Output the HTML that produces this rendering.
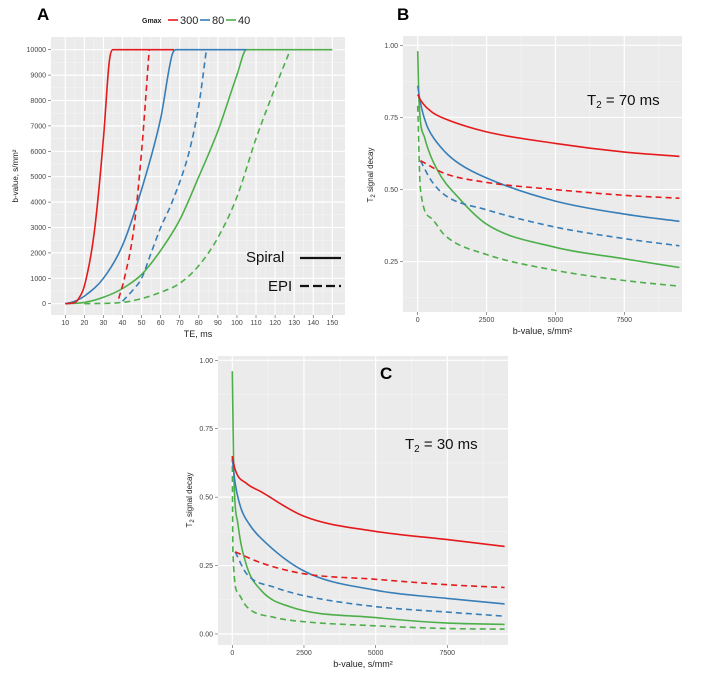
<!DOCTYPE html>
<html><head><meta charset="utf-8"><style>
body{margin:0;background:#fff}
svg{display:block;font-family:"Liberation Sans",sans-serif}
</style></head><body>
<svg id="fig" width="720" height="677" viewBox="0 0 720 677"></svg>
<script>
// ---------- Panel A data (TE ms, b-value) ----------
const aRedSolidTE=[10,15,17,20,25,30,33,35,67];
const aRedSolidB=[0,50,200,700,2700,6500,9500,10000,10000];
const aRedDashTE=[38,41,46,50,54];
const aRedDashB=[200,1000,3000,6000,10000];
const aBlueSolidTE=[10,15,20,30,40,50,60,66,68,105];
const aBlueSolidB=[0,100,300,1000,2300,4500,7300,9800,10000,10000];
const aBlueDashTE=[40,45,50,55,60,66,75,80,84];
const aBlueDashB=[100,500,1000,2000,3000,4000,6000,7800,10000];
const aGreenSolidTE=[10,20,30,40,50,60,70,80,90,100,105,150];
const aGreenSolidB=[0,50,250,600,1150,2100,3300,5000,6800,9000,10000,10000];
const aGreenDashTE=[20,40,50,60,70,80,90,100,110,120,128];
const aGreenDashB=[0,50,200,450,800,1500,2600,4200,6500,8500,10000];
const aXTicks=[10,20,30,40,50,60,70,80,90,100,110,120,130,140,150];
const aYTicks=[0,1000,2000,3000,4000,5000,6000,7000,8000,9000,10000];
// ---------- Panel B data (b-value, signal) T2=70 ----------
const bRedSolidX=[0,100,500,1000,2500,5000,7500,9500];
const bRedSolidY=[0.83,0.81,0.77,0.745,0.70,0.66,0.63,0.615];
const bBlueSolidX=[0,100,300,500,1000,1500,2500,5000,7500,9500];
const bBlueSolidY=[0.86,0.80,0.73,0.69,0.63,0.59,0.54,0.46,0.415,0.39];
const bGreenSolidX=[0,50,250,700,1500,2500,5000,7500,9500];
const bGreenSolidY=[0.98,0.80,0.68,0.57,0.47,0.38,0.30,0.26,0.23];
const bRedDashX=[100,1000,2500,5000,7500,9500];
const bRedDashY=[0.60,0.555,0.525,0.50,0.48,0.47];
const bBlueDashX=[100,500,1000,2500,5000,7500,9500];
const bBlueDashY=[0.60,0.53,0.48,0.43,0.37,0.33,0.305];
const bGreenDashX=[0,100,500,1000,2500,5000,7500,9500];
const bGreenDashY=[0.79,0.50,0.40,0.34,0.275,0.22,0.185,0.165];
// ---------- Panel C data T2=30 ----------
const cRedSolidX=[0,100,500,1000,2500,5000,7500,9500];
const cRedSolidY=[0.65,0.60,0.55,0.52,0.43,0.375,0.345,0.32];
const cBlueSolidX=[0,100,300,600,1000,2500,5000,7500,9500];
const cBlueSolidY=[0.64,0.55,0.46,0.40,0.35,0.23,0.16,0.13,0.11];
const cGreenSolidX=[0,50,200,500,1000,2000,5000,7500,9500];
const cGreenSolidY=[0.96,0.60,0.40,0.25,0.16,0.10,0.06,0.04,0.035];
const cRedDashX=[100,1000,2500,5000,7500,9500];
const cRedDashY=[0.30,0.26,0.22,0.20,0.18,0.17];
const cBlueDashX=[100,500,1500,2500,5000,7500,9500];
const cBlueDashY=[0.30,0.22,0.17,0.14,0.10,0.08,0.065];
const cGreenDashX=[0,20,200,500,1500,2500,5000,7500,9500];
const cGreenDashY=[0.65,0.30,0.15,0.10,0.06,0.045,0.03,0.02,0.018];
const bcXTicks=[0,2500,5000,7500];
const bcYTicks=[0,0.25,0.5,0.75,1.0];
const bcYLabels=["0.00","0.25","0.50","0.75","1.00"];

const NS="http://www.w3.org/2000/svg";
const svg=document.getElementById('fig');
function el(tag,attrs,parent){const e=document.createElementNS(NS,tag);for(const k in attrs)e.setAttribute(k,attrs[k]);(parent||svg).appendChild(e);return e;}
function txt(s,attrs,parent){const t=el('text',attrs,parent);t.textContent=s;return t;}
const RED="#e41a1c",BLUE="#377eb8",GREEN="#4daf4a";

// monotone cubic (Fritsch-Carlson) path through pixel points
function monoPath(P){
  const n=P.length;
  if(n<3)return P.map((p,i)=>(i?'L':'M')+p[0].toFixed(1)+' '+p[1].toFixed(1)).join(' ');
  const d=[],m=[];
  for(let i=0;i<n-1;i++){const dx=P[i+1][0]-P[i][0];d.push(dx===0?0:(P[i+1][1]-P[i][1])/dx);}
  m[0]=d[0];m[n-1]=d[n-2];
  for(let i=1;i<n-1;i++){m[i]=(d[i-1]*d[i]<=0)?0:(d[i-1]+d[i])/2;}
  for(let i=0;i<n-1;i++){
    if(d[i]===0){m[i]=0;m[i+1]=0;continue;}
    const a=m[i]/d[i],b=m[i+1]/d[i],s=a*a+b*b;
    if(s>9){const t=3/Math.sqrt(s);m[i]=t*a*d[i];m[i+1]=t*b*d[i];}
  }
  let s='M'+P[0][0].toFixed(1)+' '+P[0][1].toFixed(1);
  for(let i=0;i<n-1;i++){
    const h=(P[i+1][0]-P[i][0])/3;
    s+=' C'+(P[i][0]+h).toFixed(1)+' '+(P[i][1]+m[i]*h).toFixed(1)+' '+(P[i+1][0]-h).toFixed(1)+' '+(P[i+1][1]-m[i+1]*h).toFixed(1)+' '+P[i+1][0].toFixed(1)+' '+P[i+1][1].toFixed(1);
  }
  return s;
}

function panel(name,cfg){
  const g=el('g',{});
  
  
  const sx=v=>cfg.x0px+(v-cfg.x0)*(cfg.x1px-cfg.x0px)/(cfg.x1-cfg.x0);
  const sy=v=>cfg.y0px+(v-cfg.y0)*(cfg.y1px-cfg.y0px)/(cfg.y1-cfg.y0);
  const bg=el('rect',{x:cfg.L,y:cfg.T,width:cfg.R-cfg.L,height:cfg.B-cfg.T,fill:"#ebebeb"},g);
  
  
  cfg.xminor.forEach(v=>el('line',{x1:sx(v),x2:sx(v),y1:cfg.T,y2:cfg.B,stroke:"#f5f5f5","stroke-width":0.6},g));
  cfg.yminor.forEach(v=>el('line',{x1:cfg.L,x2:cfg.R,y1:sy(v),y2:sy(v),stroke:"#f5f5f5","stroke-width":0.6},g));
  cfg.xticks.forEach((v,i)=>{
    el('line',{x1:sx(v),x2:sx(v),y1:cfg.T,y2:cfg.B,stroke:"#fff","stroke-width":1.2},g);
    el('line',{x1:sx(v),x2:sx(v),y1:cfg.B,y2:cfg.B+3,stroke:"#555","stroke-width":0.6},g);
    const t=txt(cfg.xlabels[i],{x:sx(v),y:cfg.B+10,"font-size":7,fill:"#444","text-anchor":"middle"},g);
    
    
  });
  cfg.yticks.forEach((v,i)=>{
    el('line',{x1:cfg.L,x2:cfg.R,y1:sy(v),y2:sy(v),stroke:"#fff","stroke-width":1.2},g);
    el('line',{x1:cfg.L-3,x2:cfg.L,y1:sy(v),y2:sy(v),stroke:"#555","stroke-width":0.6},g);
    const t=txt(cfg.ylabels[i],{x:cfg.L-5,y:sy(v)+2.5,"font-size":7,fill:"#444","text-anchor":"end"},g);
    
    
  });
  const clip='clip-'+name;
  const cp=el('clipPath',{id:clip},g);el('rect',{x:cfg.L,y:cfg.T,width:cfg.R-cfg.L,height:cfg.B-cfg.T},cp);
  cfg.series.forEach(s=>{
    const pts=s.x.map((v,i)=>[sx(v),sy(s.y[i])]);
    const p=el('path',{d:monoPath(pts),fill:"none",stroke:s.c,"stroke-width":1.6,"stroke-dasharray":s.dash?"6 4":"none","clip-path":`url(#${clip})`,"stroke-linejoin":"round"},g);
    
    
  });
  const xt=txt(cfg.xtitle,{x:(cfg.L+cfg.R)/2,y:cfg.B+22,"font-size":9,fill:"#222","text-anchor":"middle"},g);
  
  
  return {g,sx,sy};
}

panel('panel-a',{L:51,R:345,T:37,B:315,x0:10,x1:150,x0px:65.3,x1px:332.3,y0:0,y1:10000,y0px:303.7,y1px:49.7,
 xticks:aXTicks,xlabels:aXTicks.map(String),yticks:aYTicks,ylabels:aYTicks.map(String),
 xminor:[15,25,35,45,55,65,75,85,95,105,115,125,135,145],yminor:[500,1500,2500,3500,4500,5500,6500,7500,8500,9500],
 xtitle:"TE, ms",
 series:[{x:aGreenDashTE,y:aGreenDashB,c:GREEN,dash:1,n:'a-gmax40-epi'},{x:aGreenSolidTE,y:aGreenSolidB,c:GREEN,n:'a-gmax40-spiral'},
 {x:aBlueDashTE,y:aBlueDashB,c:BLUE,dash:1,n:'a-gmax80-epi'},{x:aBlueSolidTE,y:aBlueSolidB,c:BLUE,n:'a-gmax80-spiral'},
 {x:aRedDashTE,y:aRedDashB,c:RED,dash:1,n:'a-gmax300-epi'},{x:aRedSolidTE,y:aRedSolidB,c:RED,n:'a-gmax300-spiral'}]});
const seriesB=[{x:bGreenDashX,y:bGreenDashY,c:GREEN,dash:1,n:'b-gmax40-epi'},{x:bGreenSolidX,y:bGreenSolidY,c:GREEN,n:'b-gmax40-spiral'},
 {x:bBlueDashX,y:bBlueDashY,c:BLUE,dash:1,n:'b-gmax80-epi'},{x:bBlueSolidX,y:bBlueSolidY,c:BLUE,n:'b-gmax80-spiral'},
 {x:bRedDashX,y:bRedDashY,c:RED,dash:1,n:'b-gmax300-epi'},{x:bRedSolidX,y:bRedSolidY,c:RED,n:'b-gmax300-spiral'}];
panel('panel-b',{L:403,R:682,T:36,B:312,x0:0,x1:7500,x0px:417.7,x1px:624.3,y0:1,y1:0.25,y0px:45.3,y1px:261.7,
 xticks:bcXTicks,xlabels:bcXTicks.map(String),yticks:bcYTicks.slice(1),ylabels:bcYLabels.slice(1),
 xminor:[1250,3750,6250,8750],yminor:[0.125,0.375,0.625,0.875],xtitle:"b-value, s/mm²",series:seriesB});
const seriesC=[{x:cGreenDashX,y:cGreenDashY,c:GREEN,dash:1,n:'c-gmax40-epi'},{x:cGreenSolidX,y:cGreenSolidY,c:GREEN,n:'c-gmax40-spiral'},
 {x:cBlueDashX,y:cBlueDashY,c:BLUE,dash:1,n:'c-gmax80-epi'},{x:cBlueSolidX,y:cBlueSolidY,c:BLUE,n:'c-gmax80-spiral'},
 {x:cRedDashX,y:cRedDashY,c:RED,dash:1,n:'c-gmax300-epi'},{x:cRedSolidX,y:cRedSolidY,c:RED,n:'c-gmax300-spiral'}];
panel('panel-c',{L:218,R:508,T:356,B:645,x0:0,x1:7500,x0px:232.3,x1px:447.3,y0:1,y1:0,y0px:360.3,y1px:634,
 xticks:bcXTicks,xlabels:bcXTicks.map(String),yticks:bcYTicks,ylabels:bcYLabels,
 xminor:[1250,3750,6250,8750],yminor:[0.125,0.375,0.625,0.875],xtitle:"b-value, s/mm²",series:seriesC});
</script>
<svg width="720" height="677" style="position:absolute;left:0;top:0;font-family:'Liberation Sans',sans-serif">
 <text x="37" y="20" font-size="17" font-weight="bold">A</text>
 <text x="397" y="20" font-size="17" font-weight="bold">B</text>
 <text x="380" y="379" font-size="17" font-weight="bold">C</text>
 <g>
  <text x="142" y="23" font-size="7" font-weight="bold" fill="#222">Gmax</text>
  <line x1="168" x2="178" y1="20" y2="20" stroke="#e41a1c" stroke-width="1.6"/>
  <text x="180" y="24" font-size="11" fill="#222">300</text>
  <line x1="200" x2="210" y1="20" y2="20" stroke="#377eb8" stroke-width="1.6"/>
  <text x="212" y="24" font-size="11" fill="#222">80</text>
  <line x1="226" x2="236" y1="20" y2="20" stroke="#4daf4a" stroke-width="1.6"/>
  <text x="238" y="24" font-size="11" fill="#222">40</text>
 </g>
 <g>
  <text x="246" y="262" font-size="15" fill="#111">Spiral</text>
  <line x1="300" x2="341" y1="258" y2="258" stroke="#111" stroke-width="2.2"/>
  <text x="268" y="291" font-size="15" fill="#111">EPI</text>
  <line x1="300" x2="341" y1="286" y2="286" stroke="#111" stroke-width="2.2" stroke-dasharray="9 4"/>
 </g>
 <text transform="translate(18,176) rotate(-90)" font-size="8" text-anchor="middle" fill="#222">b-value, s/mm²</text>
 <text transform="translate(373,175) rotate(-90)" font-size="8" text-anchor="middle" fill="#222">T<tspan font-size="6" dy="2">2</tspan><tspan dy="-2"> signal decay</tspan></text>
 <text transform="translate(192,500) rotate(-90)" font-size="8" text-anchor="middle" fill="#222">T<tspan font-size="6" dy="2">2</tspan><tspan dy="-2"> signal decay</tspan></text>
 <text x="587" y="105" font-size="15" fill="#111">T<tspan font-size="10" dy="3">2</tspan><tspan dy="-3"> = 70 ms</tspan></text>
 <text x="405" y="449" font-size="15" fill="#111">T<tspan font-size="10" dy="3">2</tspan><tspan dy="-3"> = 30 ms</tspan></text>
</svg>
</body></html>
